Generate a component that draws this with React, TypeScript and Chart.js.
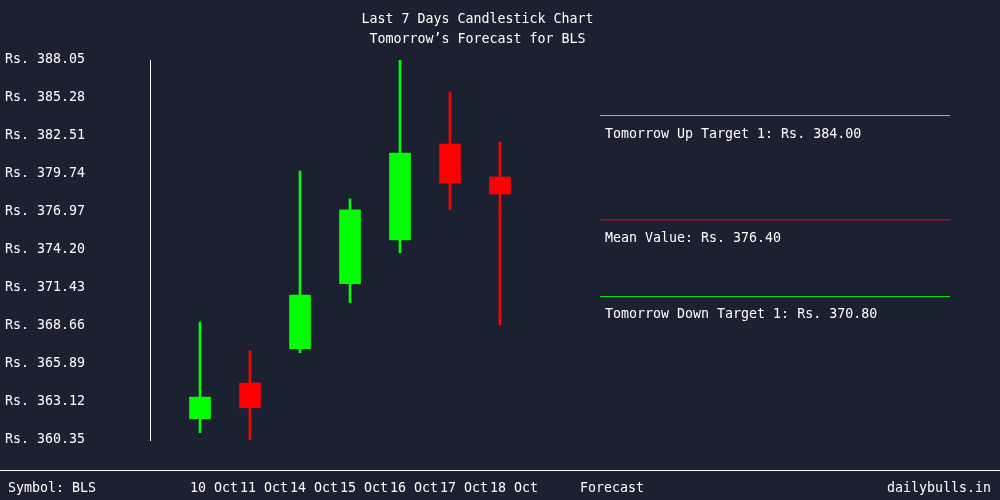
import React, { useEffect, useRef } from "react";
import { Chart, registerables } from "chart.js";

Chart.register(...registerables);

const dates = ["10 Oct", "11 Oct", "14 Oct", "15 Oct", "16 Oct", "17 Oct", "18 Oct"];
const opens = [361.9, 364.5, 367.0, 371.74, 374.93, 381.93, 379.52];
const closes = [363.48, 362.7, 370.92, 377.12, 381.27, 379.08, 378.28];
const highs = [368.95, 366.84, 379.96, 377.92, 388.05, 385.72, 382.07];
const lows = [360.88, 360.35, 366.71, 370.36, 374.0, 377.14, 368.73];
const yTicks = [360.35, 363.12, 365.89, 368.66, 371.43, 374.2, 376.97, 379.74, 382.51, 385.28, 388.05];
const upTarget = 384.0;
const meanValue = 376.4;
const downTarget = 370.8;
const symbol = "BLS";
const site = "dailybulls.in";
const forecastLabel = "Forecast";
const titleLines = ["Last 7 Days Candlestick Chart", "Tomorrow\u2019s Forecast for " + symbol];

const BG = "#1b2130";
const GREEN = "#00ff00";
const RED = "#ff0000";
const ORANGE = "#ffa500";
const WHITE = "#ffffff";
const FAMILY = "'DejaVu Sans Mono', 'Liberation Mono', monospace";
const FSIZE = 13.3;
const FONT = { family: FAMILY, size: FSIZE, weight: "normal" as const };

const FORECAST_START = 8;
const FORECAST_END = 15;

export default function App() {
  const ref = useRef<HTMLCanvasElement | null>(null);

  useEffect(() => {
    document.body.style.margin = "0";
    document.body.style.background = BG;
    const canvas = ref.current;
    if (!canvas) return;
    const colors = dates.map((_, i) => (closes[i] >= opens[i] ? GREEN : RED));

    const bgPlugin = {
      id: "bg",
      beforeDraw(chart: any) {
        const ctx = chart.ctx;
        ctx.save();
        ctx.fillStyle = BG;
        ctx.fillRect(0, 0, chart.width, chart.height);
        ctx.restore();
      },
      afterDraw(chart: any) {
        const ctx = chart.ctx;
        const xs = chart.scales.x;
        const ys = chart.scales.y;
        ctx.save();
        ctx.font = `${FSIZE}px ${FAMILY}`;
        ctx.fillStyle = WHITE;
        ctx.textBaseline = "middle";
        ctx.textAlign = "left";
        const lx = xs.getPixelForValue(FORECAST_START) + 5;
        ctx.fillText(`Tomorrow Up Target 1: Rs. ${upTarget.toFixed(2)}`, lx, ys.getPixelForValue(upTarget) + 18.5);
        ctx.fillText(`Mean Value: Rs. ${meanValue.toFixed(2)}`, lx, ys.getPixelForValue(meanValue) + 18.5);
        ctx.fillText(`Tomorrow Down Target 1: Rs. ${downTarget.toFixed(2)}`, lx, ys.getPixelForValue(downTarget) + 18);
        ctx.strokeStyle = WHITE;
        ctx.lineWidth = 1;
        ctx.beginPath();
        ctx.moveTo(0, 470.5);
        ctx.lineTo(chart.width, 470.5);
        ctx.stroke();
        ctx.fillText(`Symbol: ${symbol}`, 8, 489);
        ctx.textAlign = "right";
        ctx.fillText(site, 991, 489);
        ctx.restore();
      },
    };

    const lineDs = (v: number, color: string) => ({
      type: "line" as const,
      data: [
        { x: FORECAST_START, y: v },
        { x: FORECAST_END, y: v },
      ],
      borderColor: color,
      borderWidth: 1,
      pointRadius: 0,
      fill: false,
    });

    const chart = new Chart(canvas, {
      type: "bar",
      data: {
        datasets: [
          {
            type: "bar",
            label: "body",
            data: dates.map((_, i) => ({ x: i, y: [opens[i], closes[i]] })) as any,
            backgroundColor: colors,
            barThickness: 21,
            grouped: false,
            borderWidth: 0,
          },
          {
            type: "bar",
            label: "wick",
            data: dates.map((_, i) => ({ x: i, y: [lows[i], highs[i]] })) as any,
            backgroundColor: colors,
            barThickness: 2,
            grouped: false,
            borderWidth: 0,
          },
          lineDs(upTarget, ORANGE) as any,
          lineDs(meanValue, RED) as any,
          lineDs(downTarget, GREEN) as any,
        ],
      },
      options: {
        animation: false,
        responsive: false,
        layout: { padding: { left: 5, right: 50, top: 0, bottom: 0 } },
        plugins: {
          legend: { display: false },
          tooltip: { enabled: false },
          title: {
            display: true,
            text: titleLines,
            color: WHITE,
            font: { family: FAMILY, size: FSIZE, weight: "normal", lineHeight: 20 / FSIZE },
            padding: { top: 10, bottom: 10 },
          },
        },
        scales: {
          x: {
            type: "linear",
            min: -1,
            max: FORECAST_END,
            offset: false,
            grid: { display: false, drawTicks: false, offset: false },
            border: { display: false },
            afterBuildTicks: (s: any) => {
              s.ticks = [...dates.map((_, i) => ({ value: i - 0.2 })), { value: 7.6 }];
            },
            afterFit: (s: any) => {
              s.height = 60;
              s.paddingLeft = 0;
              s.paddingRight = 0;
            },
            ticks: {
              align: "start",
              autoSkip: false,
              maxRotation: 0,
              minRotation: 0,
              padding: 41,
              color: WHITE,
              font: FONT,
              callback: (_v: any, idx: number) => (idx < dates.length ? dates[idx] : forecastLabel),
            },
          },
          y: {
            type: "linear",
            min: yTicks[0],
            max: yTicks[yTicks.length - 1],
            grid: { display: false, drawTicks: false },
            border: { display: true, color: WHITE, width: 1 },
            afterBuildTicks: (s: any) => {
              s.ticks = yTicks.map((v) => ({ value: v }));
            },
            afterFit: (s: any) => {
              s.width = 145;
            },
            ticks: {
              crossAlign: "far",
              color: WHITE,
              font: FONT,
              callback: (v: any) => "Rs. " + Number(v).toFixed(2),
            },
          },
        },
      } as any,
      plugins: [bgPlugin],
    });
    return () => chart.destroy();
  }, []);

  return (
    <div style={{ width: 1000, height: 500, background: BG }}>
      <canvas ref={ref} width={1000} height={500} style={{ display: "block" }} />
    </div>
  );
}
